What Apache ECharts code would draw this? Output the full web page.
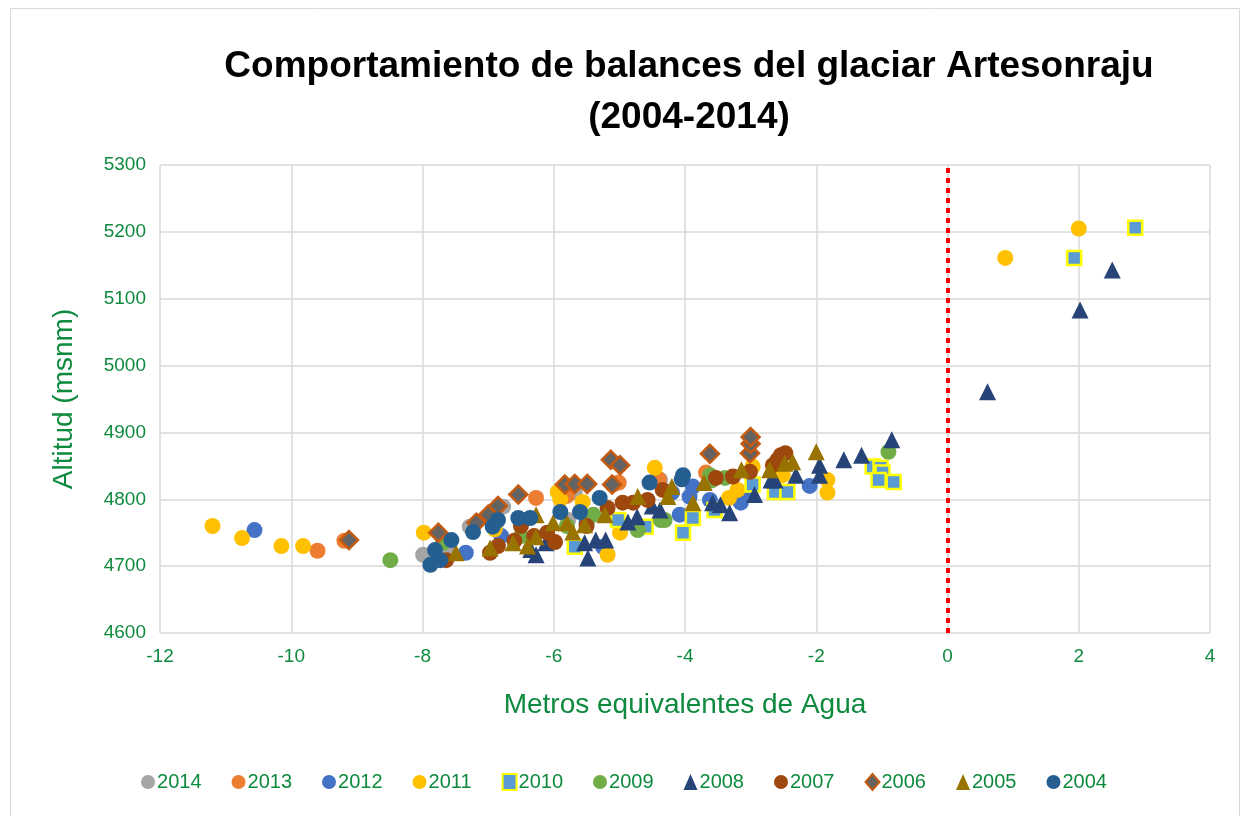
<!DOCTYPE html>
<html>
<head>
<meta charset="utf-8">
<script src="https://cdn.jsdelivr.net/npm/echarts@6/dist/echarts.min.js"></script>
<style>html,body{margin:0;padding:0;background:#fff}#c{width:1248px;height:816px}</style>
</head>
<body>
<div id="c"></div>
<script>
const years = ['2014','2013','2012','2011','2010','2009','2008','2007','2006','2005','2004'];
const xTicks = [-12,-10,-8,-6,-4,-2,0,2,4];
const yTicks = [4600,4700,4800,4900,5000,5100,5200,5300];

const s2014 = [[-7.99,4717],[-7.28,4759],[-6.77,4789],[-5.68,4811],[-4.38,4829],[-5.78,4769],[-7.6,4725]];
const s2013 = [[-9.6,4723],[-9.19,4738],[-6.27,4802],[-5.01,4825],[-3.68,4840],[-5.8,4805],[-6.9,4760],[-4.4,4830],[-3.6,4833],[-5.1,4822]];
const s2012 = [[-10.56,4754],[-7.34,4720],[-5.25,4729],[-3.88,4819],[-3.93,4804],[-4.08,4777],[-3.15,4795],[-3.62,4799],[-2.1,4820],[-5.5,4765],[-6.8,4745],[-4.2,4810],[-3.0,4812]];
const s2011 = [[-11.2,4760],[-10.75,4742],[-10.15,4730],[-9.82,4730],[-7.98,4750],[-5.94,4811],[-5.56,4796],[-4.99,4750],[-5.18,4717],[-4.46,4847],[-3.2,4814],[-3.33,4802],[-2.97,4849],[-2.51,4836],[-1.83,4829],[-1.83,4810],[0.88,5161],[2.0,5205],[-6.9,4755],[-5.9,4800]];
const s2010 = [[-5.02,4769],[-4.6,4759],[-5.68,4729],[-3.88,4772],[-4.03,4750],[-3.55,4784],[-2.97,4822],[-2.63,4811],[-2.44,4811],[-1.14,4849],[-1.02,4847],[-0.99,4840],[-1.05,4829],[-0.82,4826],[1.93,5161],[2.86,5206]];
const s2009 = [[-8.49,4709],[-7.69,4735],[-5.4,4777],[-4.72,4754],[-4.37,4769],[-3.62,4836],[-3.39,4832],[-4.31,4769],[-0.9,4871],[-6.5,4745],[-5.8,4760],[-3.6,4828]];
const s2008 = [[-6.27,4717],[-6.12,4735],[-5.53,4735],[-5.48,4712],[-5.36,4739],[-5.21,4739],[-4.87,4766],[-4.73,4774],[-4.38,4784],[-3.58,4795],[-3.46,4792],[-3.32,4780],[-2.94,4807],[-2.69,4829],[-2.63,4829],[-2.31,4836],[-1.95,4836],[-1.95,4851],[-1.58,4859],[-1.31,4866],[-0.85,4889],[0.61,4961],[2.02,5083],[2.51,5143],[-6.35,4725],[-4.5,4790]];
const s2007 = [[-7.64,4709],[-6.97,4720],[-6.85,4730],[-6.6,4738],[-6.3,4745],[-5.98,4736],[-4.95,4795],[-5.18,4787],[-4.79,4795],[-4.57,4799],[-4.34,4814],[-3.53,4832],[-3.27,4834],[-3.01,4841],[-2.66,4851],[-2.54,4866],[-2.47,4869],[-2.59,4859],[-6.5,4760],[-5.5,4760],[-6.1,4750]];
const s2006 = [[-9.12,4739],[-7.76,4750],[-7.18,4765],[-7.0,4777],[-6.85,4790],[-6.54,4807],[-5.83,4822],[-5.68,4823],[-5.49,4823],[-5.11,4822],[-5.13,4859],[-4.99,4851],[-3.62,4868],[-3.01,4869],[-3.0,4883],[-3.0,4893]];
const s2005 = [[-7.49,4720],[-6.97,4727],[-6.62,4735],[-6.27,4744],[-6.27,4777],[-6.01,4765],[-5.71,4751],[-5.53,4762],[-5.22,4777],[-4.72,4804],[-4.26,4804],[-4.2,4819],[-3.88,4795],[-3.71,4825],[-3.14,4844],[-2.71,4844],[-2.48,4854],[-2.36,4856],[-2.0,4871],[-6.4,4730],[-5.8,4765]];
const s2004 = [[-7.88,4702],[-7.73,4709],[-7.81,4724],[-7.56,4739],[-7.23,4751],[-6.93,4759],[-6.85,4769],[-6.54,4772],[-6.36,4772],[-5.9,4781],[-5.6,4781],[-5.3,4802],[-4.54,4825],[-4.03,4836],[-4.05,4830]];

const allData = [s2014,s2013,s2012,s2011,s2010,s2009,s2008,s2007,s2006,s2005,s2004];
const styles = [
  {symbol:'circle', size:16, color:'#A5A5A5'},
  {symbol:'circle', size:16, color:'#ED7D31'},
  {symbol:'circle', size:16, color:'#4472C4'},
  {symbol:'circle', size:16, color:'#FFC000'},
  {symbol:'rect', size:14, color:'#5B9BD5', border:'#FFFF00', bw:2.5},
  {symbol:'circle', size:16, color:'#70AD47'},
  {symbol:'triangle', size:17, color:'#264478'},
  {symbol:'circle', size:16, color:'#9E480E'},
  {symbol:'diamond', size:18, color:'#636363', border:'#C55A11', bw:2.5},
  {symbol:'triangle', size:17, color:'#997300'},
  {symbol:'circle', size:16, color:'#255E91'}
];
const green = '#0E8A3E';
const font = '"Liberation Sans", Arial, sans-serif';

const series = years.map((y,i)=>({
  name:y, type:'scatter', data: allData[i],
  symbol: styles[i].symbol, symbolSize: styles[i].size,
  itemStyle:{color:styles[i].color, borderColor: styles[i].border || styles[i].color, borderWidth: styles[i].bw || 0, opacity:1},
  z: 2+i
}));
series[0].markLine = {
  silent:true, symbol:['none','none'], label:{show:false},
  lineStyle:{color:'#FF0000', width:4, type:[5,5]},
  data:[{xAxis:0}], animation:false
};

const chart = echarts.init(document.getElementById('c'));
chart.setOption({
  animation:false,
  backgroundColor:'#fff',
  title:{
    text:'Comportamiento de balances del glaciar Artesonraju\n(2004-2014)',
    left:684, textAlign:'center', top:36,
    textStyle:{fontFamily:font, fontWeight:'bold', fontSize:37, color:'#000', lineHeight:51}
  },
  graphic:[{type:'rect', shape:{x:10.5,y:8.5,width:1229,height:820}, style:{fill:'none', stroke:'#D9D9D9', lineWidth:1}, silent:true}],
  legend:{
    data:years, bottom:19, left:'center', itemGap:30, itemWidth:14, itemHeight:16,
    textStyle:{fontFamily:font, fontSize:20, color:green, padding:[0,0,0,-3]}
  },
  grid:{left:160, right:38, top:165, bottom:183},
  xAxis:{
    type:'value', min:-12, max:4, interval:2,
    name:'Metros equivalentes de Agua', nameLocation:'middle', nameGap:58,
    nameTextStyle:{fontFamily:font, fontSize:28, color:green},
    axisLine:{show:false}, axisTick:{show:false},
    axisLabel:{fontFamily:font, fontSize:19, color:green, margin:14},
    splitLine:{show:true, lineStyle:{color:'#D9D9D9', width:1.5}}
  },
  yAxis:{
    type:'value', min:4600, max:5300, interval:100,
    name:'Altitud (msnm)', nameLocation:'middle', nameGap:82, nameRotate:90,
    nameTextStyle:{fontFamily:font, fontSize:28, color:green},
    axisLine:{show:false}, axisTick:{show:false},
    axisLabel:{fontFamily:font, fontSize:19, color:green, margin:14, formatter:(v)=>String(v)},
    splitLine:{show:true, lineStyle:{color:'#D9D9D9', width:1.5}}
  },
  series: series
});
</script>
</body>
</html>
